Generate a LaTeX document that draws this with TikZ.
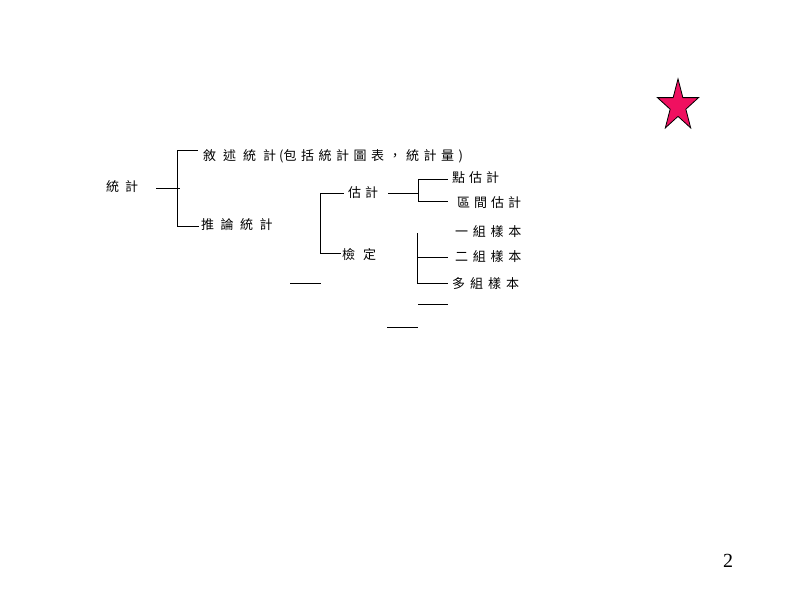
\documentclass[tikz,border=0pt]{standalone}
\usepackage{fontspec}
\setmainfont{Liberation Serif}
\newfontfamily\cjk{Noto Sans CJK TC}
\definecolor{starpink}{RGB}{240,16,96}
\tikzset{
  lbl/.style={font=\cjk\fontsize{13}{15}\selectfont, inner sep=0pt, anchor=west},
  ln/.style={line width=1pt, line cap=rect},
}
\begin{document}
\begin{tikzpicture}[x=1pt,y=-1pt]
\path[use as bounding box, fill=white] (0,0) rectangle (800,600);
% text nodes
\node[lbl] (tj) at (106,187) {\spaceskip=6pt 統 計};
\node[lbl] (xs) at (203,156) {{\spaceskip=7pt 敘 述 統 計}\hspace{3pt}{\spaceskip=4.5pt (包 括 統 計 圖 表 ， 統 計 量 )}};
\node[lbl] (tl) at (201,225) {\spaceskip=6.5pt 推 論 統 計};
\node[lbl] (gj) at (348,193) {\spaceskip=4pt 估 計};
\node[lbl] (jd) at (342,255) {\spaceskip=8pt 檢 定};
\node[lbl] (dg) at (452,178) {\spaceskip=4pt 點 估 計};
\node[lbl] (qj) at (457,203) {\spaceskip=4pt 區 間 估 計};
\node[lbl] (y1) at (455,232) {\spaceskip=4.7pt 一 組 樣 本};
\node[lbl] (y2) at (455,257) {\spaceskip=4.7pt 二 組 樣 本};
\node[lbl] (y3) at (452,284) {\spaceskip=5pt 多 組 樣 本};
% bracket coordinates
\coordinate (a1) at (156,188); \coordinate (a2) at (179,188);
\coordinate (b1) at (197,150); \coordinate (b2) at (177,150);
\coordinate (b3) at (177,226); \coordinate (b4) at (198,226);
\coordinate (c1) at (343,193); \coordinate (c2) at (320,193);
\coordinate (c3) at (320,253); \coordinate (c4) at (340,253);
\coordinate (d1) at (388,193); \coordinate (d2) at (418,193);
\coordinate (e1) at (447,179); \coordinate (e2) at (418,179);
\coordinate (e3) at (418,201); \coordinate (e4) at (447,201);
\coordinate (f1) at (417,233); \coordinate (f2) at (417,283);
\coordinate (f3) at (447,283); \coordinate (f4) at (417,257);
\coordinate (f5) at (447,257);
\coordinate (s1) at (290,283); \coordinate (s2) at (320,283);
\coordinate (s3) at (418,304); \coordinate (s4) at (447,304);
\coordinate (s5) at (387,327); \coordinate (s6) at (417,327);
% connectors
\draw[ln] (a1) -- (a2);
\draw[ln] (b1) -- (b2) -- (b3) -- (b4);
\draw[ln] (c1) -- (c2) -- (c3) -- (c4);
\draw[ln] (d1) -- (d2);
\draw[ln] (e1) -- (e2) -- (e3) -- (e4);
\draw[ln] (f1) -- (f2) -- (f3);
\draw[ln] (f4) -- (f5);
\draw[ln] (s1) -- (s2);
\draw[ln] (s3) -- (s4);
\draw[ln] (s5) -- (s6);
% star
\begin{scope}[shift={(678,106)}, xscale=21.6, yscale=27.1]
\draw[fill=starpink, line width=0.8pt, line join=miter]
  (-90:1) -- (-54:0.382) -- (-18:1) -- (18:0.382) -- (54:1) -- (90:0.382)
  -- (126:1) -- (162:0.382) -- (198:1) -- (234:0.382) -- cycle;
\end{scope}
% page number
\node[font=\fontsize{20}{24}\selectfont, inner sep=0pt] (pg) at (728,561) {2};
\end{tikzpicture}
\end{document}
